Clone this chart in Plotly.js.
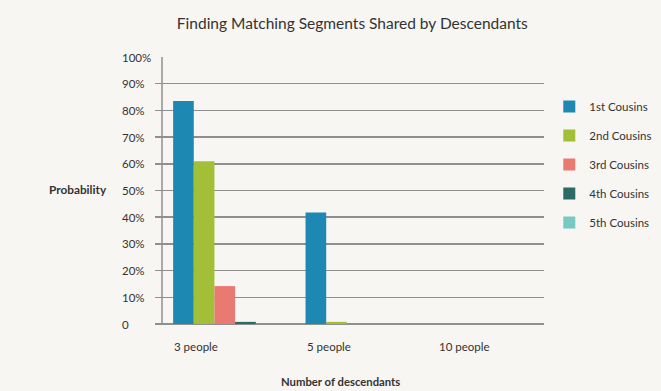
<!DOCTYPE html>
<html>
<head>
<meta charset="utf-8">
<script src="https://cdn.plot.ly/plotly-3.0.1.min.js"></script>
<style>html,body{margin:0;padding:0;background:#f7f6f2;}#chart{width:661px;height:391px;}</style>
</head>
<body>
<div id="chart"></div>
<script>
const categories = ["3 people", "5 people", "10 people"];
const seriesNames = ["1st Cousins", "2nd Cousins", "3rd Cousins", "4th Cousins", "5th Cousins"];
const cousins1 = [0.835, 0.418, 0];
const cousins2 = [0.61, 0.008, 0];
const cousins3 = [0.142, 0, 0];
const cousins4 = [0.008, 0, 0];
const cousins5 = [0, 0, 0];
const yTickVals = [0, 0.1, 0.2, 0.3, 0.4, 0.5, 0.6, 0.7, 0.8, 0.9, 1.0];
const yTickText = ["0", "10%", "20%", "30%", "40%", "50%", "60%", "70%", "80%", "90%", "100%"];
const colors = ["#1d89b2", "#a2c037", "#e97a72", "#2b6b63", "#77c9c1"];

const seriesValues = [cousins1, cousins2, cousins3, cousins4, cousins5];
const font = "Lato, 'Source Sans Pro', sans-serif";
const textColor = "#333333";

const traces = seriesValues.map((vals, i) => ({
  type: "bar",
  name: seriesNames[i],
  x: categories,
  y: vals,
  legendgroup: "g" + i,
  marker: {color: colors[i], line: {width: 0}},
  hoverinfo: "x+y+name"
}));

const annotations = [];
yTickVals.forEach((v, i) => {
  annotations.push({
    xref: "paper", yref: "y", x: -0.09, y: v, xanchor: "left", yanchor: "middle",
    text: yTickText[i], showarrow: false, font: {family: font, size: 11.5, color: textColor}
  });
});
categories.forEach((c, i) => {
  annotations.push({
    xref: "x", yref: "paper", x: i - 0.395, y: -0.086, xanchor: "left", yanchor: "middle",
    text: c, showarrow: false, font: {family: font, size: 11.5, color: textColor}
  });
});
annotations.push({
  xref: "paper", yref: "paper", x: -0.278, y: 0.505, xanchor: "left", yanchor: "middle",
  text: "<b>Probability</b>", showarrow: false, font: {family: font, size: 11.8, color: textColor}
});
annotations.push({
  xref: "paper", yref: "paper", x: 0.478, y: -0.216, xanchor: "center", yanchor: "middle",
  text: "<b>Number of descendants</b>", showarrow: false, font: {family: font, size: 11.3, color: textColor}
});

const layout = {
  width: 661, height: 391,
  paper_bgcolor: "#f7f6f2", plot_bgcolor: "#f7f6f2",
  margin: {l: 155, r: 117, t: 56.7, b: 67, pad: 0, autoexpand: false},
  title: {text: "Finding Matching Segments Shared by Descendants", x: 0.533, xref: "container",
          y: 0.94, yref: "container", xanchor: "center", yanchor: "middle",
          font: {family: font, size: 15.5, color: textColor}},
  barmode: "group", bargap: 0.22, bargroupgap: 0,
  xaxis: {type: "category", range: [-0.527, 2.411], showticklabels: false, showgrid: false,
          zeroline: false, showline: false, ticks: "", fixedrange: true},
  yaxis: {range: [0, 1], tickvals: yTickVals, showticklabels: false, showgrid: true,
          gridcolor: "#8f8f8f", gridwidth: 1.5, zeroline: true, zerolinecolor: "#8f8f8f", zerolinewidth: 1.5,
          showline: false, ticks: "", fixedrange: true},
  shapes: [{type: "line", xref: "paper", yref: "paper", x0: 0.018, x1: 0.018, y0: 0, y1: 1,
            line: {color: "#8f8f8f", width: 1.5}, layer: "above"}],
  legend: {xref: "container", yref: "container", x: 0.831, xanchor: "left", y: 0.765, yanchor: "top",
           tracegroupgap: 10, itemwidth: 30, traceorder: "grouped",
           font: {family: font, size: 11.5, color: textColor}, bgcolor: "rgba(0,0,0,0)"},
  annotations: annotations,
  showlegend: true,
  font: {family: font, color: textColor}
};

Plotly.newPlot("chart", traces, layout, {displayModeBar: false, staticPlot: true});
</script>
</body>
</html>
